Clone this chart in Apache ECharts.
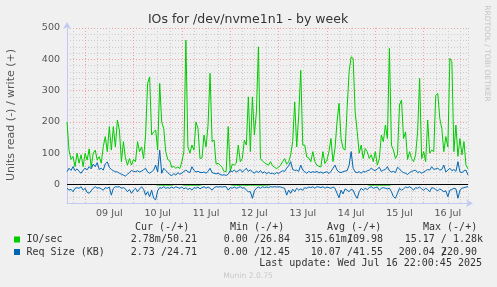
<!DOCTYPE html>
<html><head><meta charset="utf-8">
<script src="https://cdn.jsdelivr.net/npm/echarts@6/dist/echarts.min.js"></script>
<style>html,body{margin:0;padding:0;background:#f0f0f0}#c{width:497px;height:287px}</style>
</head><body><div id="c"></div>
<script>
// time axis: hourly samples starting Jul 8 15:00 (UTC)
const startUTC = Date.UTC(2025, 6, 8, 15, 0);
const stepHours = 1;
const monthNames = ['Jan','Feb','Mar','Apr','May','Jun','Jul','Aug','Sep','Oct','Nov','Dec'];

// IO/sec write (+)
const writeIO = [200,110,80,90,57,100,68,95,57,100,
78,114,55,100,110,78,89,68,121,153,
105,185,110,185,120,206,174,73,137,85,
62,83,62,80,73,137,105,120,83,158,
323,344,158,168,174,110,323,200,179,105,
80,75,55,58,52,56,51,73,105,461,
120,100,126,110,200,179,83,85,158,120,
190,355,137,142,65,68,62,55,41,42,
185,41,65,62,68,126,73,83,142,126,
280,105,280,158,232,440,83,75,70,65,
62,73,60,55,51,55,62,73,83,65,
73,94,137,264,120,222,365,126,126,88,
85,73,105,73,62,58,56,105,67,78,
105,147,73,115,200,259,147,115,110,243,
360,408,403,232,170,100,126,83,115,105,
83,95,73,105,62,83,158,137,190,147,
435,126,110,83,95,254,270,147,168,80,
105,83,73,95,168,339,83,105,73,206,
100,110,105,285,291,211,179,105,153,120,
403,392,105,190,90,147,95,137,62,50];

// IO/sec read (-)
const readIO = [0,0,0,0,0,0,0,0,0,0,0,0,0,0,0,0,0,0,0,0,
0,0,0,0,0,0,0,0,0,0,0,0,0,0,0,0,0,0,0,0,
0,0,0,0,0,-2,-2,-2,-2,-2,-2,-2,-2,0,0,0,0,0,-2,-2,
-2,-2,-2,-2,-2,-2,-2,0,0,0,0,0,0,0,0,0,0,0,0,0,
0,0,-2,-2,-2,-3,-2,-2,-2,-3,-2,-2,-2,-2,-2,-2,-2,-2,-2,-2,
-2,0,0,0,0,0,0,0,0,0,0,0,0,0,0,0,0,0,0,0,
0,0,0,0,0,0,0,0,0,0,0,0,0,0,0,0,0,0,0,0,
0,0,0,0,0,0,0,0,0,0,-2,-2,-2,-2,-2,-2,-2,-2,-2,-2,
-2,0,0,0,0,0,0,0,0,0,0,0,0,0,0,0,0,0,0,0,
0,0,0,0,0,0,0,0,0,0,0,0,0,0,0,0,0,0,0,0];

// Req Size (KB) write (+)
const writeKB = [41,52,45,57,44,50,42,36,46,52,
47,57,50,65,57,70,48,52,46,66,
72,55,48,44,41,40,36,33,30,27,
33,38,45,42,41,44,40,43,47,52,
40,36,41,46,62,40,110,36,52,45,
38,32,28,35,30,38,33,36,42,46,
41,38,57,45,40,42,39,38,40,36,
42,52,38,36,34,36,32,30,31,29,
33,44,41,46,40,44,48,40,45,52,
42,47,40,36,43,38,45,36,41,34,
39,35,36,33,38,35,40,44,42,52,
60,73,48,45,46,42,62,46,41,36,
42,38,41,39,42,37,40,36,39,41,
35,42,52,62,46,40,38,41,43,44,
62,105,52,40,38,41,36,42,40,44,
46,52,47,44,50,55,42,46,48,57,
44,40,42,38,55,50,42,38,36,32,
38,42,44,46,38,41,36,40,44,48,
46,57,48,50,52,46,48,62,40,46,
52,44,48,42,73,40,38,44,46,30];

// Req Size (KB) read (-)
const readKB = [-12,-18,-15,-23,-12,-10,-12,-7,-18,-12,
-25,-28,-20,-12,-7,-12,-10,-14,-18,-10,
-12,-8,-34,-12,-7,-8,-7,-12,-10,-14,
-23,-16,-28,-18,-12,-23,-14,-7,-15,-34,
-23,-39,-18,-44,-49,-20,-10,-12,-7,-12,
-10,-12,-8,-12,-7,-10,-12,-8,-14,-10,
-16,-12,-18,-10,-12,-8,-14,-10,-7,-12,
-8,-12,-18,-10,-7,-8,-7,-8,-7,-7,
-18,-10,-12,-8,-12,-10,-7,-12,-10,-18,
-23,-23,-44,-20,-12,-8,-12,-7,-10,-8,
-10,-7,-8,-7,-8,-7,-8,-10,-12,-34,
-18,-28,-15,-23,-12,-18,-14,-18,-10,-12,
-8,-10,-7,-12,-7,-8,-10,-7,-12,-8,
-10,-12,-8,-12,-28,-42,-18,-30,-14,-18,
-23,-15,-18,-34,-44,-23,-12,-18,-12,-16,
-10,-7,-12,-10,-8,-18,-12,-10,-12,-14,
-12,-23,-39,-44,-28,-12,-18,-14,-8,-10,
-7,-12,-18,-10,-12,-8,-14,-18,-12,-16,
-23,-10,-12,-16,-20,-14,-18,-23,-20,-39,
-18,-16,-12,-14,-44,-18,-12,-10,-8,-7];

// legend texts
const legendNames = ['IO/sec', 'Req Size (KB)'];
const legendHeaders = ['Cur (-/+)', 'Min (-/+)', 'Avg (-/+)', 'Max (-/+)'];
const curText = ['2.78m/50.21', '2.73 /24.71'];
const minText = ['0.00 /26.84', '0.00 /12.45'];
const avgText = ['315.61m/109.98', '10.07 /41.55'];
const maxText = ['15.17 / 1.28k', '200.04 /220.90'];
const lastUpdate = 'Last update: Wed Jul 16 22:00:45 2025';
const yTickStep = 100;

const categories = writeIO.map(function (_, i) {
  const d = new Date(startUTC + i * stepHours * 3600000);
  const p = function (n) { return (n < 10 ? '0' : '') + n; };
  return d.getUTCFullYear() + '-' + p(d.getUTCMonth() + 1) + '-' + p(d.getUTCDate()) + ' ' + p(d.getUTCHours()) + ':00';
});
function hourOf(v) { return parseInt(v.slice(11, 13), 10); }

const GREEN = '#00cc00', BLUE = '#0066b3';
const gridGray = '#cbcbcb', gridRed = '#f2a0a0', axisBlue = '#c2caf2';
const mono = '"DejaVu Sans Mono", monospace';
const sans = '"DejaVu Sans", sans-serif';
const cw = 6.02;

const chart = echarts.init(document.getElementById('c'), null, {renderer: 'canvas'});

const graphics = [];
function txt(s, x, y, opts) {
  graphics.push(Object.assign({type: 'text', x: x, y: y, silent: true,
    style: Object.assign({text: s, font: '10px ' + mono, fill: '#333', align: 'left', verticalAlign: 'middle'}, opts && opts.style || {})
  }, opts && opts.props || {}));
}
// title
txt('IOs for /dev/nvme1n1 - by week', 248, 19.5, {style: {font: '12.5px ' + sans, fill: '#333', align: 'center'}});
// y axis name
txt('Units read (-) / write (+)', 11, 115, {style: {font: '11px ' + sans, fill: '#555', align: 'center'}, props: {rotation: Math.PI / 2}});
// rrdtool watermark
txt('RRDTOOL / TOBI OETIKER', 487, 53.5, {style: {font: '7.5px ' + sans, fill: '#c4c4c4', align: 'center'}, props: {rotation: -Math.PI / 2}});
// legend headers
const headerX = [135, 230, 327, 423];
legendHeaders.forEach(function (h, k) { txt(h, headerX[k], 227); });
const rowY = [239.5, 252];
const colors = [GREEN, BLUE];
const colRight = [[197, 197], [290, 290], [383, 383], [483, 477]];
const colOverlap = [[false, false], [false, false], [true, false], [false, true]];
const cols = [curText, minText, avgText, maxText];
legendNames.forEach(function (n, r) {
  graphics.push({type: 'rect', silent: true, shape: {x: 14, y: rowY[r] - 3, width: 6, height: 6}, style: {fill: colors[r]}});
  txt(n, 26.5, rowY[r]);
  cols.forEach(function (col, k) {
    const s = col[r];
    const right = colRight[k][r];
    const cut = s.indexOf('/') + 1;
    const left = s.slice(0, cut), rest = s.slice(cut);
    txt(rest, right, rowY[r], {style: {align: 'right'}});
    const leftEnd = right - rest.length * cw + (colOverlap[k][r] ? cw : 0);
    txt(left, leftEnd, rowY[r], {style: {align: 'right'}});
  });
});
txt(lastUpdate, 482, 263, {style: {align: 'right'}});
txt('Munin 2.0.75', 248, 276, {style: {font: '7.6px ' + sans, fill: '#c8c8c8', align: 'center'}});

function lineSeries(name, data, color, extra) {
  return Object.assign({
    name: name, type: 'line', data: data, xAxisIndex: 0, yAxisIndex: 0,
    symbol: 'none', showSymbol: false, silent: true, smooth: false,
    lineStyle: {color: color, width: 1}, itemStyle: {color: color}
  }, extra || {});
}

const option = {
  animation: false,
  backgroundColor: '#f0f0f0',
  grid: {left: 67, right: 29, top: 28, bottom: 83.7},
  xAxis: [{
    type: 'category', data: categories, boundaryGap: false,
    axisLine: {show: true, onZero: false, lineStyle: {color: axisBlue, width: 1}, symbol: ['none', 'arrow'], symbolSize: [6, 7], symbolOffset: [0, 5]},
    axisTick: {show: false},
    axisLabel: {
      interval: function (i, v) { return hourOf(v) === 12; },
      formatter: function (v) { return v.slice(8, 10) + ' ' + monthNames[parseInt(v.slice(5, 7), 10) - 1]; },
      color: '#555', fontSize: 9.5, fontFamily: 'DejaVu Sans', margin: 5, hideOverlap: false
    },
    splitLine: {show: true,
      interval: function (i, v) { const h = hourOf(v); return (h % 6 === 0 && h !== 0) || i === categories.length - 1; },
      lineStyle: {color: gridGray, type: [1, 2], width: 1}}
  }, {
    type: 'category', data: categories, boundaryGap: false, position: 'bottom',
    axisLine: {show: false, onZero: false}, axisTick: {show: false}, axisLabel: {show: false},
    splitLine: {show: true, interval: function (i, v) { return hourOf(v) === 0; }, lineStyle: {color: gridRed, type: [1, 2], width: 1}}
  }],
  yAxis: {
    type: 'value', min: -60, max: 500, interval: 20,
    axisLine: {show: true, lineStyle: {color: axisBlue, width: 1}, symbol: ['none', 'arrow'], symbolSize: [6, 7], symbolOffset: [0, 6]},
    axisTick: {show: false},
    axisLabel: {formatter: function (v) { return v % yTickStep === 0 ? String(v) : ''; }, color: '#555', fontSize: 9.5, fontFamily: 'DejaVu Sans', margin: 7},
    splitLine: {show: true, lineStyle: {color: [gridGray, gridGray, gridGray, gridRed, gridGray], type: [1, 2], width: 1}}
  },
  series: [
    lineSeries('IO/sec write', writeIO, GREEN),
    lineSeries('IO/sec read', readIO, GREEN),
    lineSeries('Req Size write', writeKB, BLUE, {
      markLine: {silent: true, symbol: ['none', 'none'], label: {show: false},
        lineStyle: {color: '#000', width: 1, type: 'solid'}, data: [{yAxis: 0}]}
    }),
    lineSeries('Req Size read', readKB, BLUE)
  ],
  graphic: graphics
};
chart.setOption(option);
</script></body></html>
